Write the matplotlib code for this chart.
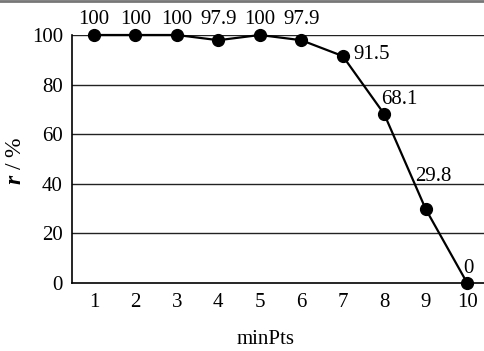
import matplotlib
matplotlib.use("Agg")
import matplotlib.pyplot as plt
from matplotlib.lines import Line2D

plt.rcParams['font.family'] = ['Liberation Serif', 'DejaVu Serif']
plt.rcParams['mathtext.fontset'] = 'custom'
plt.rcParams['mathtext.bfit'] = 'Liberation Serif:bold:italic'

min_pts = [1, 2, 3, 4, 5, 6, 7, 8, 9, 10]
r_vals = [100, 100, 100, 97.9, 100, 97.9, 91.5, 68.1, 29.8, 0]
r_text = ['100', '100', '100', '97.9', '100', '97.9', '91.5', '68.1', '29.8', '0']
# label baseline offsets in pixels (dx, dy)
offsets = [(0, 11), (0, 11), (0, 11), (0, 16), (0, 11), (0, 16), (29, -3), (15, 10), (8, 28), (1, 10)]

fs = 15
fig = plt.figure(figsize=(4.85, 3.51), dpi=100)
ax = fig.add_axes([72/485, 1-283/351, 1-72/485, (283-35)/351])

for y in [20, 40, 60, 80, 100]:
    ax.axhline(y, color='#222222', lw=1.0, zorder=1)

ax.plot(min_pts, r_vals, color='black', lw=1.6, marker='o', markersize=8.5,
        clip_on=False, zorder=3)

for x, y, t, (dx, dy) in zip(min_pts, r_vals, r_text, offsets):
    ax.annotate(t, (x, y), xytext=(dx, dy), textcoords='offset pixels',
                ha='center', va='baseline', fontsize=fs)

ax.set_xlim(0.47, 10.43)
ax.set_ylim(0, 100)
ax.set_xticks(min_pts)
ax.set_yticks([0, 20, 40, 60, 80, 100])
ax.tick_params(length=0, labelsize=fs)
ax.tick_params(axis='x', pad=7)
ax.tick_params(axis='y', pad=6.5)
for s in ['top', 'right']:
    ax.spines[s].set_visible(False)
ax.spines['left'].set_linewidth(1.2)
ax.spines['bottom'].set_linewidth(1.2)

ax.set_xlabel('minPts', fontsize=fs)
ax.xaxis.set_label_coords((266-72)/413, -(340-283)/248)
ax.xaxis.label.set_va('center')
ax.set_ylabel(r'$\boldsymbol{r}$ / %', fontsize=17)
ax.yaxis.set_label_coords((16-72)/413, (283-161)/248)
ax.yaxis.label.set_va('center')

fig.add_artist(Line2D([0, 1], [0.997, 0.997], color='#777777', lw=2, transform=fig.transFigure))

fig.savefig('out.png', dpi=100)
